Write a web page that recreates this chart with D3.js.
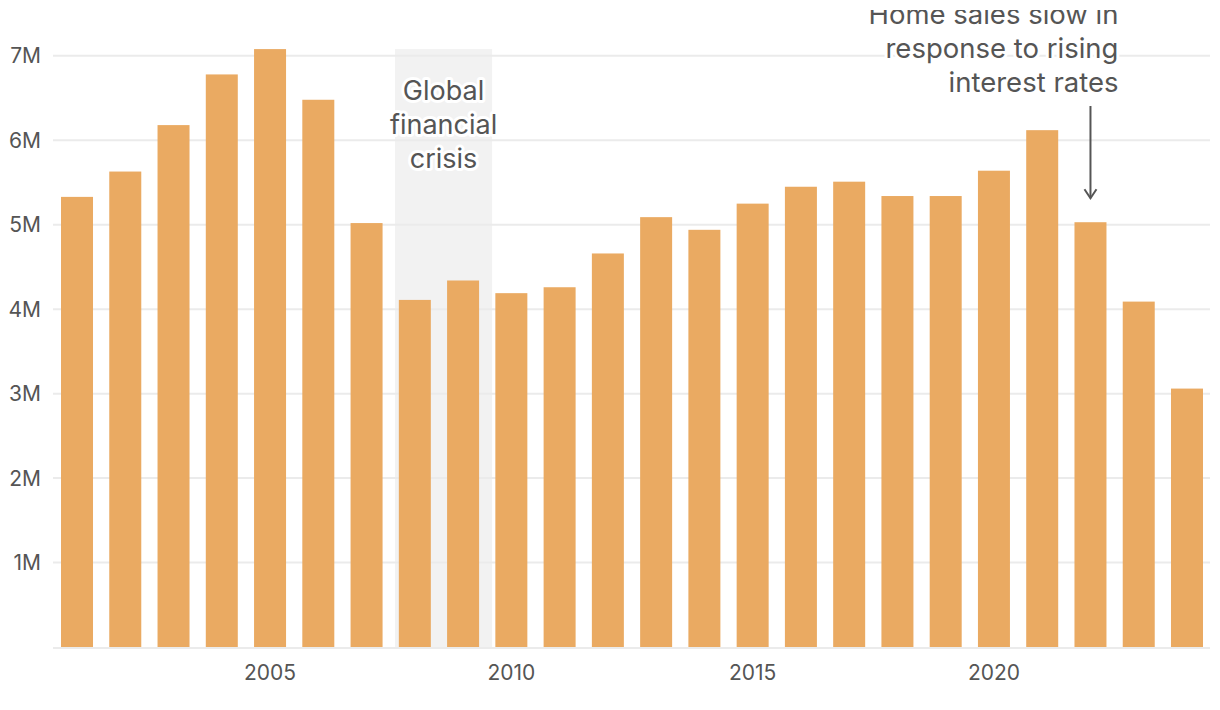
<!DOCTYPE html>
<html>
<head>
<meta charset="utf-8">
<script src="https://cdn.jsdelivr.net/npm/d3@7"></script>
<style>
	html, body { margin: 0; padding: 0; background: #fff; }
	#chart text { font-family: "Inter", "Lato", sans-serif; fill: #555; }
</style>
</head>
<body>
<div id="chart"></div>
<script>
// data (existing-home sales, millions)
const years = ["2001","2002","2003","2004","2005","2006","2007","2008","2009","2010","2011","2012",
	"2013","2014","2015","2016","2017","2018","2019","2020","2021","2022","2023","2024"];
const sales = [5.33, 5.63, 6.18, 6.78, 7.08, 6.48, 5.02, 4.11, 4.34, 4.19, 4.26, 4.66,
	5.09, 4.94, 5.25, 5.45, 5.51, 5.34, 5.34, 5.64, 6.12, 5.03, 4.09, 3.06];
const yTicks = [1, 2, 3, 4, 5, 6, 7];
const xTickYears = ["2005", "2010", "2015", "2020"];
const crisisYears = ["2008", "2009"];
const crisisLabel = ["Global", "financial", "crisis"];
const noteYear = "2022";
const noteLabel = ["Home sales slow in", "response to rising", "interest rates"];

function drawChart(options = {}) {
	const {
		width = 1220,
		height = 710,
		containerTag = "#chart"
	} = options;

	const left = 53, right = 1211, bottom = 647;

	const svg = d3.select(containerTag)
		.append("svg")
		.attr("width", width)
		.attr("height", height);

	// the note's first line runs off the top of the frame, as in the original
	svg.append("clipPath")
		.attr("id", "frame")
		.append("rect")
		.attr("x", 0).attr("y", 10)
		.attr("width", width).attr("height", height - 10);

	const x = d3.scaleBand()
		.domain(years)
		.range([left, right])
		.paddingInner(0.337)
		.paddingOuter(0.166);

	const y = d3.scaleLinear()
		.domain([0, 7])
		.range([bottom, bottom - 7 * 84.45]);

	// shaded recession band
	const step = x.step();
	const x0 = x(crisisYears[0]) - 0.08 * step;
	const x1 = x(crisisYears[1]) + x.bandwidth() + 0.27 * step;
	svg.append("rect")
		.attr("x", x0)
		.attr("y", y(d3.max(sales)))
		.attr("width", x1 - x0)
		.attr("height", bottom - y(d3.max(sales)))
		.attr("fill", "#f2f2f2");

	// grid lines
	svg.append("g")
		.selectAll("line")
		.data(yTicks)
		.join("line")
		.attr("x1", left)
		.attr("x2", right - 1)
		.attr("y1", d => y(d))
		.attr("y2", d => y(d))
		.attr("stroke", "#ebebeb")
		.attr("stroke-width", 2);

	// y labels
	svg.append("g")
		.selectAll("text")
		.data(yTicks)
		.join("text")
		.attr("x", 41)
		.attr("y", d => y(d))
		.attr("dy", "0.36em")
		.attr("text-anchor", "end")
		.style("font-size", "21px")
		.text(d => d + "M");

	// bars
	svg.append("g")
		.selectAll("rect")
		.data(years.map((yr, i) => ({ yr, v: sales[i] })))
		.join("rect")
		.attr("x", d => x(d.yr))
		.attr("y", d => y(d.v))
		.attr("width", x.bandwidth())
		.attr("height", d => y(0) - y(d.v))
		.attr("fill", "#eaaa62");

	// baseline
	svg.append("line")
		.attr("x1", left)
		.attr("x2", right - 1)
		.attr("y1", bottom + 1)
		.attr("y2", bottom + 1)
		.attr("stroke", "#ebebeb")
		.attr("stroke-width", 2);

	// x labels
	svg.append("g")
		.selectAll("text")
		.data(xTickYears)
		.join("text")
		.attr("x", d => x(d) + x.bandwidth() / 2)
		.attr("y", 672)
		.attr("dy", "0.36em")
		.attr("text-anchor", "middle")
		.style("font-size", "21px")
		.text(d => d);

	// crisis label with white halo
	svg.append("text")
		.attr("text-anchor", "middle")
		.style("font-size", "27px")
		.attr("stroke", "#fff")
		.attr("stroke-width", 6)
		.attr("stroke-linejoin", "round")
		.attr("paint-order", "stroke")
		.selectAll("tspan")
		.data(crisisLabel)
		.join("tspan")
		.attr("x", (x0 + x1) / 2)
		.attr("y", (d, i) => 100 + i * 34)
		.text(d => d);

	// arrow to 2022 bar
	const ax = x(noteYear) + x.bandwidth() / 2;
	const ay = y(sales[years.indexOf(noteYear)]) - 24;
	svg.append("line")
		.attr("x1", ax).attr("x2", ax)
		.attr("y1", 106).attr("y2", ay)
		.attr("stroke", "#555")
		.attr("stroke-width", 2);
	svg.append("path")
		.attr("d", `M${ax - 6},${ay - 9}L${ax},${ay}L${ax + 6},${ay - 9}`)
		.attr("fill", "none")
		.attr("stroke", "#555")
		.attr("stroke-width", 2);

	svg.append("text")
		.attr("clip-path", "url(#frame)")
		.attr("text-anchor", "end")
		.style("font-size", "27.5px")
		.attr("stroke", "#fff")
		.attr("stroke-width", 6)
		.attr("stroke-linejoin", "round")
		.attr("paint-order", "stroke")
		.selectAll("tspan")
		.data(noteLabel)
		.join("tspan")
		.attr("x", ax + 28)
		.attr("y", (d, i) => 24 + i * 34)
		.text(d => d);
}

drawChart();
</script>
</body>
</html>
